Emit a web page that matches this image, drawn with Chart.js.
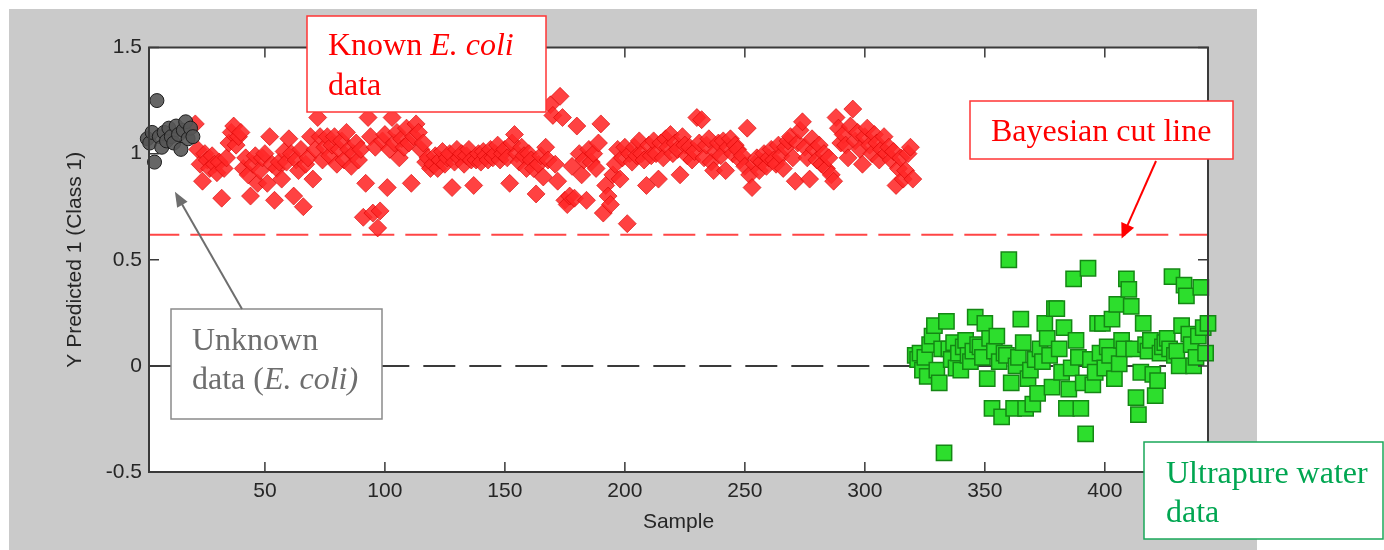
<!DOCTYPE html>
<html>
<head>
<meta charset="utf-8">
<script src="https://cdn.jsdelivr.net/npm/chart.js@4.4.1/dist/chart.umd.min.js"></script>
<style>
  html, body { margin: 0; padding: 0; background: #fff; }
</style>
</head>
<body>
<canvas id="plsChart" width="1384" height="550"></canvas>
<script>
// sample numbers are consecutive, so each series only needs a start index
const unknownStart = 1
const unknownY = [
  1.07, 1.05, 1.1, 0.96, 1.25, 1.08, 1.03, 1.1, 1.06, 1.12,
  1.08, 1.05, 1.13, 1.09, 1.02, 1.11, 1.15, 1.07, 1.12, 1.08,
]

const ecoliStart = 21
const ecoliY = [
  1.14, 1.02, 0.95, 0.87, 1.0, 0.97, 0.93, 0.99, 0.95, 0.91,
  0.96, 0.79, 0.93, 0.98, 1.05, 1.1, 1.13, 1.04, 1.08, 1.1,
  0.93, 0.98, 0.9, 0.8, 0.95, 0.99, 0.86, 0.92, 0.98, 1.0,
  0.86, 1.08, 0.95, 0.78, 0.93, 0.96, 0.88, 1.01, 0.96, 1.07,
  1.0, 0.8, 0.97, 0.92, 1.02, 0.75, 0.95, 0.98, 1.08, 0.88,
  1.02, 1.17, 1.08, 0.97, 1.03, 1.08, 0.99, 1.04, 1.08, 0.95,
  1.02, 1.06, 0.97, 1.1, 1.02, 0.94, 1.0, 1.05, 0.97, 1.02,
  0.7, 0.86, 1.17, 1.08, 0.72, 1.03, 0.65, 0.73, 1.06, 1.09,
  0.84, 1.02, 1.17, 1.05, 1.1, 0.98, 1.07, 1.03, 1.12, 1.05,
  0.86, 1.08, 1.14, 1.1, 1.02, 1.05, 0.96, 0.98, 0.93, 0.95,
  0.99, 0.93, 0.97, 1.01, 0.95, 0.98, 1.0, 0.84, 0.96, 1.02,
  0.98, 1.0, 0.95, 0.99, 1.02, 0.97, 0.85, 0.97, 1.0, 0.96,
  1.01, 0.99, 0.97, 1.02, 0.98, 1.0, 1.04, 0.97, 1.0, 1.02,
  0.98, 0.86, 1.05, 1.09, 1.0, 0.96, 1.03, 0.99, 0.93, 1.0,
  0.97, 0.93, 0.81, 0.95, 0.99, 0.89, 1.03, 0.97, 1.23, 1.18,
  0.95, 0.87, 1.27, 1.17, 0.78, 0.76, 0.8, 0.94, 0.79, 1.13,
  1.0, 0.9, 0.97, 0.78, 1.02, 0.96, 1.0, 0.93, 1.05, 1.14,
  0.72, 0.85, 0.8, 0.76, 0.9, 0.95, 1.02, 0.88, 0.98, 1.03,
  0.67, 1.0, 0.96, 1.03, 0.99, 1.06, 1.0, 0.97, 0.85, 1.04,
  0.99, 1.06, 1.0, 0.88, 1.05, 0.98, 1.07, 1.03, 1.09, 1.0,
  1.05, 1.02, 0.9, 1.08, 1.04, 0.99, 1.03, 0.97, 1.01, 1.17,
  1.05, 1.16, 0.98, 1.04, 1.07, 0.96, 0.92, 1.01, 1.05, 0.99,
  1.06, 0.92, 1.03, 1.07, 1.0, 1.04, 1.02, 0.97, 0.99, 0.94,
  1.12, 0.9, 0.84, 0.95, 0.98, 0.92, 0.96, 1.0, 0.94, 0.98,
  1.02, 0.97, 0.95, 1.04, 0.99, 0.93, 1.03, 1.06, 1.08, 0.98,
  0.87, 1.05, 1.11, 1.15, 1.03, 0.98, 0.88, 1.07, 1.02, 0.97,
  1.04, 0.95, 1.0, 0.93, 0.98, 0.9, 0.87, 1.17, 1.12, 1.05,
  1.09, 1.04, 0.98, 1.13, 1.21, 1.06, 1.1, 1.02, 0.95, 1.08,
  1.12, 1.04, 1.0, 1.09, 1.05, 0.97, 1.02, 1.08, 1.0, 1.03,
  0.97, 1.01, 0.85, 0.93, 0.98, 0.88, 0.92, 1.0, 1.03, 0.88,
]

const waterStart = 321
const waterY = [
  0.05, 0.03, 0.06, -0.02, 0.04, -0.05, 0.1, 0.14, 0.19, -0.02,
  -0.08, 0.08, -0.41, 0.21, 0.08, 0.03, 0.11, -0.01, 0.06, -0.02,
  0.09, 0.12, 0.05, 0.02, 0.07, 0.23, 0.1, 0.09, 0.04, 0.2,
  -0.06, 0.13, -0.2, 0.07, 0.14, 0.02, -0.24, 0.06, 0.05, 0.5,
  -0.08, -0.2, 0.0, 0.04, 0.22, 0.11, -0.2, -0.06, -0.02, -0.18,
  0.03, -0.13, 0.08, 0.02, 0.2, 0.13, 0.05, -0.1, 0.27, 0.27,
  0.08, -0.03, 0.18, -0.2, -0.11, -0.01, 0.41, 0.12, 0.04, -0.2,
  -0.08, -0.32, 0.46, 0.03, -0.09, -0.03, 0.2, 0.06, 0.2, -0.01,
  0.09, 0.05, 0.22, -0.06, 0.29, 0.01, 0.12, 0.08, 0.41, 0.36,
  0.28, 0.08, -0.15, -0.23, -0.03, 0.2, 0.1, 0.07, 0.12, -0.04,
  -0.14, -0.07, 0.06, 0.09, 0.11, 0.13, 0.08, 0.42, 0.05, 0.07,
  0.0, 0.19, 0.38, 0.33, 0.15, 0.1, 0.0, 0.04, 0.14, 0.37,
  0.18, 0.06, 0.2,
]

const cutLevel = 0.618
const cutLineSpan = [1, 443]
const zeroLineSpan = [1, 425.5]

const xLimits = [1.7, 443]
const yLimits = [-0.5, 1.5]

// where the two annotation arrows point, in data units
const unknownArrowTip = { x: 12.5, y: 0.82 }
const cutArrowTip = { x: 407, y: 0.6 }

const toPoints = (start, ys) => ys.map((y, i) => ({ x: start + i, y: y }))
const hLine = (span, level) => span.map((x) => ({ x: x, y: level }))

const AXIS_FONT = { family: "'Liberation Sans', Arial, sans-serif", size: 21 }
const NOTE_FONT = "'Liberation Serif', 'Times New Roman', serif"

function drawArrow(ctx, x0, y0, x1, y1, color, len, half) {
  const a = Math.atan2(y1 - y0, x1 - x0)
  ctx.strokeStyle = color
  ctx.fillStyle = color
  ctx.lineWidth = 2
  ctx.beginPath()
  ctx.moveTo(x0, y0)
  ctx.lineTo(x1 - Math.cos(a) * len * 0.8, y1 - Math.sin(a) * len * 0.8)
  ctx.stroke()
  ctx.beginPath()
  ctx.moveTo(x1, y1)
  ctx.lineTo(x1 - Math.cos(a) * len - Math.sin(a) * half, y1 - Math.sin(a) * len + Math.cos(a) * half)
  ctx.lineTo(x1 - Math.cos(a) * len + Math.sin(a) * half, y1 - Math.sin(a) * len - Math.cos(a) * half)
  ctx.closePath()
  ctx.fill()
}

function drawNote(ctx, box, lines, color, border) {
  ctx.fillStyle = "#fff"
  ctx.fillRect(box[0], box[1], box[2], box[3])
  ctx.strokeStyle = border
  ctx.lineWidth = 1.5
  ctx.strokeRect(box[0], box[1], box[2], box[3])
  ctx.fillStyle = color
  ctx.textBaseline = "alphabetic"
  ctx.textAlign = "left"
  lines.forEach((line) => {
    let cx = line.x
    line.runs.forEach(([txt, italic]) => {
      ctx.font = (italic ? "italic " : "") + "32px " + NOTE_FONT
      ctx.fillText(txt, cx, line.y)
      cx += ctx.measureText(txt).width
    })
  })
}

const matlabFrame = {
  id: "matlabFrame",
  beforeDraw(chart) {
    const { ctx, chartArea: { left, top, right, bottom } } = chart
    ctx.save()
    ctx.fillStyle = "#cacaca"
    ctx.fillRect(9, 9, 1248, chart.height - 9)
    ctx.fillStyle = "#fff"
    ctx.fillRect(left, top, right - left, bottom - top)
    ctx.restore()
  },
  afterDatasetsDraw(chart) {
    const { ctx, chartArea: { left, top, right, bottom }, scales: { x, y } } = chart
    ctx.save()
    ctx.strokeStyle = "#3a3a3a"
    ctx.lineWidth = 2
    ctx.strokeRect(left, top, right - left, bottom - top)
    ctx.lineWidth = 1.5
    ctx.beginPath()
    x.ticks.forEach((t) => {
      const px = x.getPixelForValue(t.value)
      ctx.moveTo(px, bottom)
      ctx.lineTo(px, bottom - 10)
      ctx.moveTo(px, top)
      ctx.lineTo(px, top + 10)
    })
    y.ticks.forEach((t) => {
      const py = y.getPixelForValue(t.value)
      ctx.moveTo(left, py)
      ctx.lineTo(left + 10, py)
      ctx.moveTo(right, py)
      ctx.lineTo(right - 10, py)
    })
    ctx.stroke()
    ctx.restore()
  },
  afterDraw(chart) {
    const { ctx, scales: { x, y } } = chart
    ctx.save()
    drawNote(ctx, [307, 16, 239, 96], [
      { x: 328, y: 55, runs: [["Known ", false], ["E. coli", true]] },
      { x: 328, y: 95, runs: [["data", false]] },
    ], "#ff0000", "#ff3535")
    drawNote(ctx, [970, 101, 263, 58], [
      { x: 991, y: 141, runs: [["Bayesian cut line", false]] },
    ], "#ff0000", "#ff3535")
    drawNote(ctx, [171, 309, 211, 110], [
      { x: 192, y: 350, runs: [["Unknown", false]] },
      { x: 192, y: 389, runs: [["data (", false], ["E. coli)", true]] },
    ], "#6e6e6e", "#8a8a8a")
    drawNote(ctx, [1144, 442, 239, 97], [
      { x: 1166, y: 483, runs: [["Ultrapure water", false]] },
      { x: 1166, y: 522, runs: [["data", false]] },
    ], "#00a651", "#1aa85a")
    drawArrow(ctx, 242, 309, x.getPixelForValue(unknownArrowTip.x), y.getPixelForValue(unknownArrowTip.y), "#6e6e6e", 15, 6)
    drawArrow(ctx, 1156, 161, x.getPixelForValue(cutArrowTip.x), y.getPixelForValue(cutArrowTip.y), "#ff0000", 15, 7)
    ctx.restore()
  },
}

new Chart(document.getElementById("plsChart"), {
  type: "scatter",
  data: {
    datasets: [
      {
        label: "Unknown data",
        data: toPoints(unknownStart, unknownY),
        pointStyle: "circle",
        pointRadius: 7,
        backgroundColor: "rgba(85,85,85,0.9)",
        borderColor: "#1e1e1e",
        borderWidth: 1,
        clip: false,
        order: 0,
      },
      {
        label: "Known E. coli",
        data: toPoints(ecoliStart, ecoliY),
        pointStyle: "rectRot",
        pointRadius: 9,
        backgroundColor: "rgba(255,40,40,0.88)",
        borderColor: "rgba(215,0,0,0.6)",
        borderWidth: 1,
        clip: false,
        order: 1,
      },
      {
        label: "Ultrapure water",
        data: toPoints(waterStart, waterY),
        pointStyle: "rect",
        pointRadius: 10.8,
        backgroundColor: "rgb(45,222,45)",
        borderColor: "rgb(20,135,20)",
        borderWidth: 1.5,
        clip: false,
        order: 2,
      },
      {
        type: "line",
        label: "Bayesian cut line",
        data: hLine(cutLineSpan, cutLevel),
        showLine: true,
        borderColor: "#ff4545",
        borderWidth: 2,
        borderDash: [32, 11],
        pointRadius: 0,
        fill: false,
        order: 3,
      },
      {
        type: "line",
        label: "zero",
        data: hLine(zeroLineSpan, 0),
        showLine: true,
        borderColor: "#3a3a3a",
        borderWidth: 2,
        borderDash: [32, 14],
        pointRadius: 0,
        fill: false,
        order: 3,
      },
    ],
  },
  options: {
    responsive: false,
    animation: false,
    layout: { padding: { left: 9, top: 47.5, right: 176, bottom: 0 } },
    plugins: {
      legend: { display: false },
      tooltip: { enabled: false },
    },
    scales: {
      x: {
        type: "linear",
        min: xLimits[0],
        max: xLimits[1],
        grid: { display: false, drawTicks: false },
        border: { display: false },
        ticks: {
          stepSize: 50,
          includeBounds: false,
          padding: 7,
          color: "#262626",
          font: AXIS_FONT,
        },
        title: {
          display: true,
          text: "Sample",
          color: "#262626",
          font: AXIS_FONT,
          padding: { top: 0, bottom: 15 },
        },
        afterFit(scale) {
          scale.height = 78
        },
      },
      y: {
        type: "linear",
        min: yLimits[0],
        max: yLimits[1],
        grid: { display: false, drawTicks: false },
        border: { display: false },
        ticks: {
          stepSize: 0.5,
          padding: 7,
          color: "#262626",
          font: AXIS_FONT,
          callback: function (value) {
            return String(value)
          },
        },
        title: {
          display: true,
          text: "Y Predicted 1 (Class 1)",
          color: "#262626",
          font: AXIS_FONT,
          padding: { top: 54, bottom: 0 },
        },
        afterFit(scale) {
          scale.width = 140
        },
      },
    },
  },
  plugins: [matlabFrame],
})
</script>
</body>
</html>
